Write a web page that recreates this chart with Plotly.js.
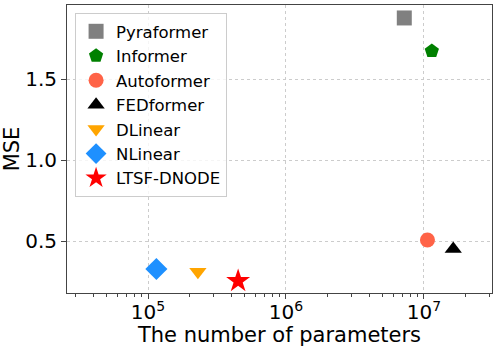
<!DOCTYPE html>
<html>
<head>
<meta charset="utf-8">
<script src="https://cdn.plot.ly/plotly-3.0.1.min.js"></script>
<style>html,body{margin:0;padding:0;background:#fff;}#chart{width:498px;height:347px;}</style>
</head>
<body>
<div id="chart"></div>
<script>
const models = ["Pyraformer", "Informer", "Autoformer", "FEDformer", "DLinear", "NLinear", "LTSF-DNODE"];
const params = [7.2e6, 1.14e7, 1.06e7, 1.63e7, 2.3e5, 1.15e5, 4.5e5];
const mse = [1.877, 1.673, 0.506, 0.45, 0.31, 0.327, 0.253];
const colors = ["#808080", "#008000", "#ff6347", "#000000", "#ffa500", "#1e90ff", "#ff0000"];
const symbols = ["square", "pentagon", "circle", "triangle-up", "triangle-down", "diamond", "star"];
const sizes = [15, 15, 15, 15, 15, 17, 18];
const xTickVals = [1e5, 1e6, 1e7];
const xTickText = ["10<sup>5</sup>", "10<sup>6</sup>", "10<sup>7</sup>"];
const xMinorTicks = [3e4, 4e4, 5e4, 6e4, 7e4, 8e4, 9e4,
  2e5, 3e5, 4e5, 5e5, 6e5, 7e5, 8e5, 9e5,
  2e6, 3e6, 4e6, 5e6, 6e6, 7e6, 8e6, 9e6,
  2e7, 3e7];
const yTickVals = [0.5, 1.0, 1.5];
const yTickText = ["0.5", "1.0", "1.5"];

const xRange = [4.413, 7.493];

const traces = models.map((m, i) => ({
  type: "scatter", mode: "markers", name: m,
  x: [params[i]], y: [mse[i]],
  marker: {symbol: symbols[i], color: colors[i], size: sizes[i], line: {width: 0}}
}));
// invisible helper trace so the minor-tick axis is drawn
traces.push({type: "scatter", mode: "markers", x: [params[0]], y: [mse[0]],
  xaxis: "x2", yaxis: "y", showlegend: false, hoverinfo: "skip",
  marker: {opacity: 0, size: 1}});

const font = "DejaVu Sans, sans-serif";
const layout = {
  width: 498, height: 347,
  margin: {l: 67, r: 6, t: 5, b: 54},
  paper_bgcolor: "#fff", plot_bgcolor: "#fff",
  font: {family: font, color: "#000"},
  showlegend: true,
  legend: {x: 0.019, y: 0.972, xanchor: "left", yanchor: "top",
    bgcolor: "rgba(255,255,255,0.8)", bordercolor: "#cccccc", borderwidth: 1,
    font: {family: font, size: 16.5, color: "#000"}},
  xaxis: {type: "log", range: xRange,
    tickvals: xTickVals, ticktext: xTickText,
    tickfont: {family: font, size: 20},
    ticks: "outside", ticklen: 5, tickcolor: "#444",
    ticklabelstandoff: -4,
    showline: true, linecolor: "#444", linewidth: 1, mirror: true,
    showgrid: true, gridcolor: "#cccccc", griddash: "dot", gridwidth: 1,
    zeroline: false, automargin: false,
    title: {text: "The number of parameters", font: {family: font, size: 21}}},
  xaxis2: {type: "log", range: xRange, overlaying: "x", side: "bottom",
    tickvals: xMinorTicks, showticklabels: false,
    ticks: "outside", ticklen: 3, tickcolor: "#444",
    showline: false, showgrid: false, zeroline: false},
  yaxis: {range: [0.179, 1.957],
    tickvals: yTickVals, ticktext: yTickText,
    tickfont: {family: font, size: 20},
    ticks: "outside", ticklen: 5, tickcolor: "#444",
    showline: true, linecolor: "#444", linewidth: 1, mirror: true,
    showgrid: true, gridcolor: "#cccccc", griddash: "dot", gridwidth: 1,
    zeroline: false,
    title: {text: "MSE", font: {family: font, size: 21}, standoff: 6}}
};
Plotly.newPlot("chart", traces, layout, {staticPlot: true, displayModeBar: false});
</script>
</body>
</html>
